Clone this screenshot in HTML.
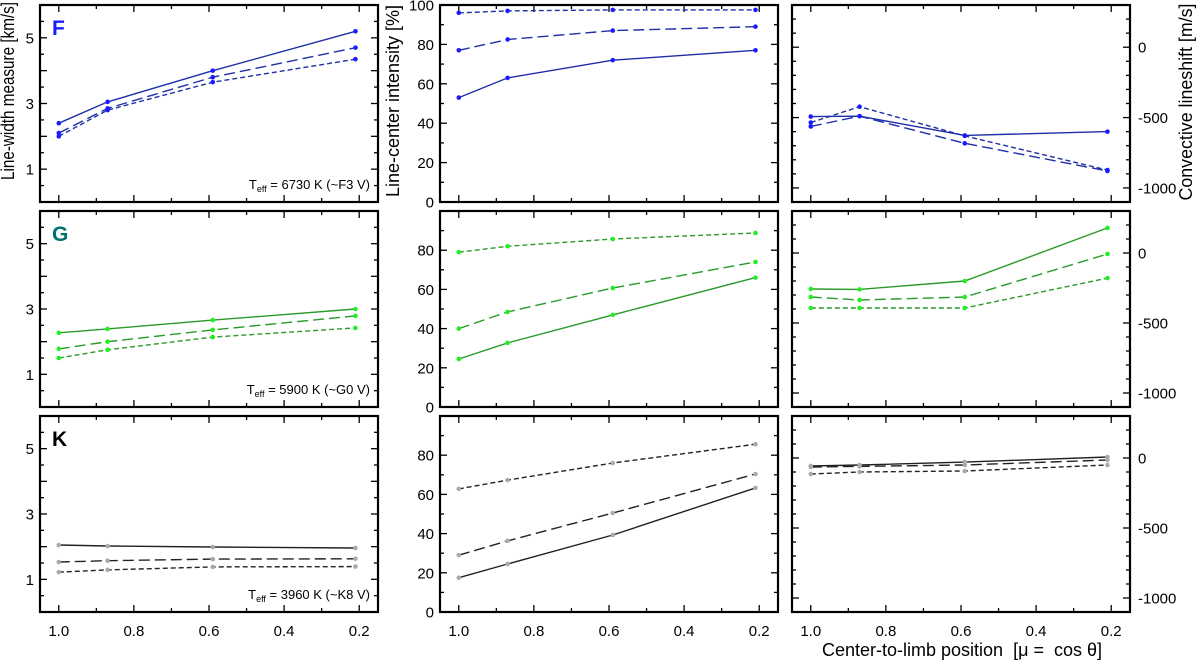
<!DOCTYPE html>
<html><head><meta charset="utf-8">
<style>
html,body{margin:0;padding:0;background:#fff;}
svg{display:block;font-family:"Liberation Sans",Arial,sans-serif;}
</style></head>
<body>
<svg id="fig" width="1200" height="663" viewBox="0 0 1200 663" xmlns="http://www.w3.org/2000/svg"></svg>
<script>
// ---- data ----
const mu = [1.0, 0.87, 0.59, 0.21];
const xTicks = [1.0, 0.8, 0.6, 0.4, 0.2];
const xTickLabels = ["1.0", "0.8", "0.6", "0.4", "0.2"];
const widthTicks = [1, 3, 5];
const intensityTicksTop = [0, 20, 40, 60, 80, 100];
const intensityTicks = [0, 20, 40, 60, 80];
const shiftTicks = [-1000, -500, 0];

const fWidthSolid = [2.4, 3.05, 4.0, 5.2];
const fWidthLong = [2.1, 2.85, 3.8, 4.7];
const fWidthShort = [2.0, 2.8, 3.65, 4.35];
const fIntSolid = [53, 63, 72, 77];
const fIntLong = [77, 82.5, 87, 89];
const fIntShort = [96, 97, 97.5, 97.5];
const fShiftSolid = [-493, -490, -627, -600];
const fShiftLong = [-563, -490, -683, -880];
const fShiftShort = [-535, -423, -630, -873];

const gWidthSolid = [2.27, 2.39, 2.66, 3.0];
const gWidthLong = [1.78, 2.0, 2.36, 2.79];
const gWidthShort = [1.5, 1.75, 2.14, 2.42];
const gIntSolid = [24.5, 32.7, 47, 66];
const gIntLong = [40, 48.5, 60.7, 74];
const gIntShort = [79, 82, 85.7, 88.8];
const gShiftSolid = [-257, -260, -200, 179];
const gShiftLong = [-314, -336, -314, -7];
const gShiftShort = [-393, -393, -393, -179];

const kWidthSolid = [2.05, 2.02, 1.99, 1.96];
const kWidthLong = [1.53, 1.57, 1.62, 1.63];
const kWidthShort = [1.22, 1.29, 1.38, 1.39];
const kIntSolid = [17.5, 24.5, 39.3, 63.3];
const kIntLong = [29, 36.3, 50.5, 70.4];
const kIntShort = [62.8, 67.3, 76, 85.6];
const kShiftSolid = [-57, -50, -29, 7];
const kShiftLong = [-64, -60, -50, -14];
const kShiftShort = [-114, -100, -93, -50];

// ---- layout ----
const NS = "http://www.w3.org/2000/svg";
const svg = document.getElementById("fig");
const cols = [{x0:40,x1:378},{x0:440,x1:778},{x0:792,x1:1130}];
const rows = [{y0:5,y1:202},{y0:211,y1:407},{y0:416,y1:612}];
const xDom = [1.05, 0.15];
const yDoms = [[0,6],[0,100],[-1100,300]];

function mk(tag, attrs){const e=document.createElementNS(NS,tag);for(const k in attrs)e.setAttribute(k,attrs[k]);return e;}
function xs(c,v){return c.x0+(v-xDom[0])/(xDom[1]-xDom[0])*(c.x1-c.x0);}
function ys(r,d,v){return r.y1-(v-d[0])/(d[1]-d[0])*(r.y1-r.y0);}

const styles = {
  F:{line:"#1f2fa8",mark:"#1a1aff"},
  G:{line:"#2a9a2a",mark:"#22ee22"},
  K:{line:"#222222",mark:"#aaaaaa"}
};
const dashes = {solid:"", long:"11,5", short:"5,3"};

const rowData = [
  {key:"F", series:[[fWidthSolid,fWidthLong,fWidthShort],[fIntSolid,fIntLong,fIntShort],[fShiftSolid,fShiftLong,fShiftShort]], teff:"6730 K (~F3 V)", color:"#1a1aff"},
  {key:"G", series:[[gWidthSolid,gWidthLong,gWidthShort],[gIntSolid,gIntLong,gIntShort],[gShiftSolid,gShiftLong,gShiftShort]], teff:"5900 K (~G0 V)", color:"#007070"},
  {key:"K", series:[[kWidthSolid,kWidthLong,kWidthShort],[kIntSolid,kIntLong,kIntShort],[kShiftSolid,kShiftLong,kShiftShort]], teff:"3960 K (~K8 V)", color:"#000000"}
];
const dashNames=["solid","long","short"];

rowData.forEach((rd,ri)=>{
  const r=rows[ri];
  cols.forEach((c,ci)=>{
    const d=yDoms[ci];
    const g=mk("g",{});
    
    
    svg.appendChild(g);
    for(let v=1.0; v>=0.15; v-=0.1){
      const vv=Math.round(v*10)/10;
      const x=xs(c,vv);
      const major=Math.round(vv*10)%2===0;
      const L=major?7:4;
      g.appendChild(mk("line",{x1:x,x2:x,y1:r.y1,y2:r.y1-L,stroke:"#000","stroke-width":1.3}));
      g.appendChild(mk("line",{x1:x,x2:x,y1:r.y0,y2:r.y0+L,stroke:"#000","stroke-width":1.3}));
    }
    let step, majorStep;
    if(ci===0){step=0.5;majorStep=1;} else if(ci===1){step=10;majorStep=20;} else {step=100;majorStep=500;}
    for(let v=d[0]; v<=d[1]+1e-9; v+=step){
      const y=ys(r,d,v);
      const major=Math.abs(v/majorStep-Math.round(v/majorStep))<1e-6;
      const L=major?7:4;
      g.appendChild(mk("line",{x1:c.x0,x2:c.x0+L,y1:y,y2:y,stroke:"#000","stroke-width":1.3}));
      g.appendChild(mk("line",{x1:c.x1,x2:c.x1-L,y1:y,y2:y,stroke:"#000","stroke-width":1.3}));
    }
    const fr=mk("rect",{x:c.x0,y:r.y0,width:c.x1-c.x0,height:r.y1-r.y0,fill:"none",stroke:"#000","stroke-width":2.2});
    
    
    g.appendChild(fr);
    let labs = ci===0?widthTicks:(ci===1?(ri===0?intensityTicksTop:intensityTicks):shiftTicks);
    labs.forEach(v=>{
      const y=ys(r,d,v)+5.5;
      const t=mk("text",{"font-size":15,fill:"#000"});
      if(ci===2){t.setAttribute("x",c.x1+8);t.setAttribute("text-anchor","start");}
      else {t.setAttribute("x",c.x0-6);t.setAttribute("text-anchor","end");}
      t.setAttribute("y",y);
      t.textContent=String(v);
      
      
      g.appendChild(t);
    });
    if(ri===2){
      xTicks.forEach((v,i)=>{
        const t=mk("text",{x:xs(c,v),y:r.y1+24,"font-size":15,"text-anchor":"middle",fill:"#000"});
        t.textContent=xTickLabels[i];
        
        
        g.appendChild(t);
      });
    }
    const st=styles[rd.key];
    rd.series[ci].forEach((vals,si)=>{
      const pts=mu.map((m,i)=>xs(c,m).toFixed(1)+","+ys(r,d,vals[i]).toFixed(1)).join(" ");
      const pl=mk("polyline",{points:pts,fill:"none",stroke:st.line,"stroke-width":1.4});
      if(dashes[dashNames[si]])pl.setAttribute("stroke-dasharray",dashes[dashNames[si]]);
      
      
      g.appendChild(pl);
      mu.forEach((m,i)=>{
        const p=mk("circle",{cx:xs(c,m),cy:ys(r,d,vals[i]),r:2.3,fill:st.mark});
        
        
        g.appendChild(p);
      });
    });
    if(ci===0){
      const lab=mk("text",{x:c.x0+12,y:r.y0+30,"font-size":21,"font-weight":"bold",fill:rd.color});
      lab.textContent=rd.key;
      
      
      g.appendChild(lab);
      const te=mk("text",{x:c.x1-8,y:r.y1-13,"font-size":13,"text-anchor":"end",fill:"#000"});
      te.innerHTML='T<tspan font-size="9" dy="3">eff</tspan><tspan dy="-3"> = '+rd.teff+'</tspan>';
      
      
      g.appendChild(te);
    }
  });
});

function title(txt,x,y,len,name){
  const t=mk("text",{x:x,y:y,"font-size":18,"text-anchor":"middle",fill:"#000",textLength:len,lengthAdjust:"spacingAndGlyphs",transform:`rotate(-90 ${x} ${y})`});
  t.textContent=txt;
  
  
  svg.appendChild(t);
}
title("Line-width measure [km/s]",14,91,178,"y-axis-title-width");
title("Line-center intensity [%]",399,101,192,"y-axis-title-intensity");
title("Convective lineshift [m/s]",1192,102,197,"y-axis-title-lineshift");
const xt=mk("text",{x:962,y:656,"font-size":18,"text-anchor":"middle",fill:"#000"});
xt.textContent="Center-to-limb position \u00a0[\u03bc = \u00a0cos \u03b8]";


svg.appendChild(xt);
</script>
</body></html>
